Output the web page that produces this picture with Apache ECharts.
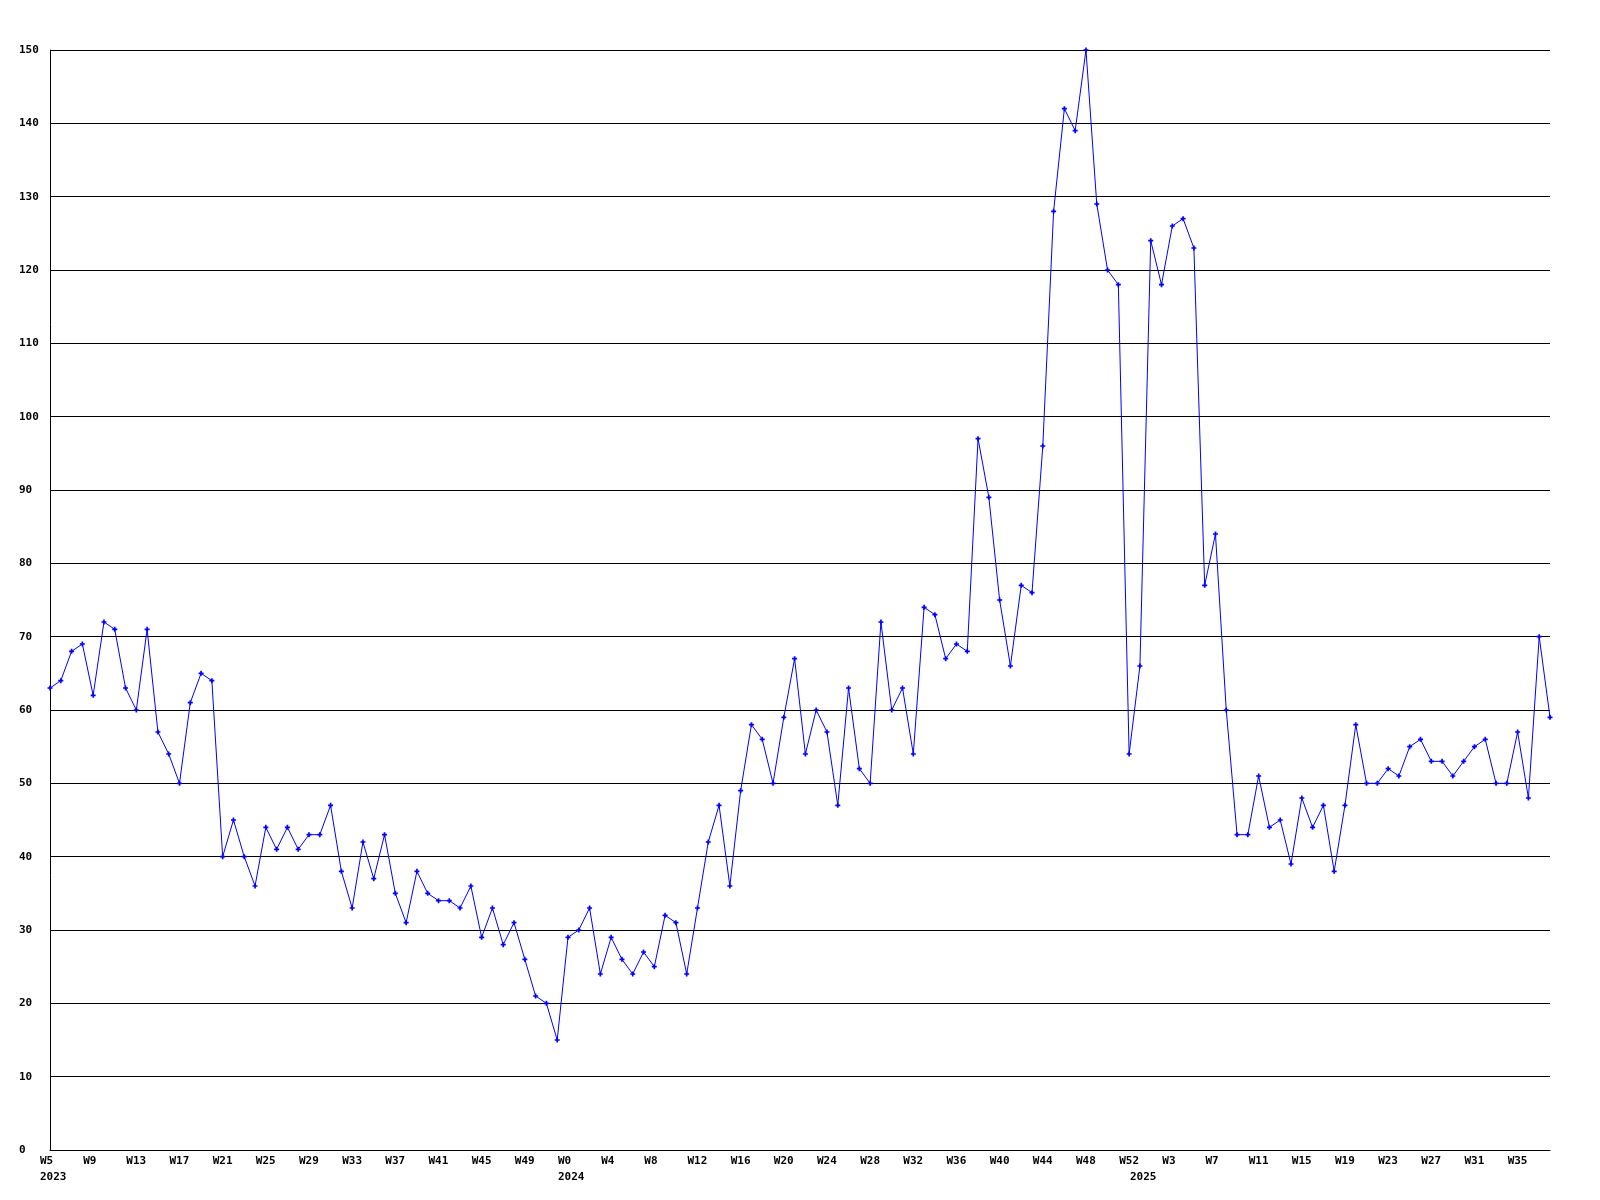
<!DOCTYPE html>
<html>
<head>
<meta charset="utf-8">
<script src="https://cdn.jsdelivr.net/npm/echarts@6/dist/echarts.min.js"></script>
<style>
html,body{margin:0;padding:0;background:#ffffff;}
#chart{width:1600px;height:1200px;}
</style>
</head>
<body>
<div id="chart"></div>
<script>
// Week ranges per year (category axis)
const weeks2023 = [5, 52];
const weeks2024 = [0, 52];
const weeks2025 = [0, 38];
const yearNames = ['2023', '2024', '2025'];

// Series values, weekly
const values2023 = [63,64,68,69,62,72,71,63,60,71,57,54,50,61,65,64,40,45,40,36,44,41,44,41,43,43,47,38,33,42,37,43,35,31,38,35,34,34,33,36,29,33,28,31,26,21,20,15];
const values2024 = [29,30,33,24,29,26,24,27,25,32,31,24,33,42,47,36,49,58,56,50,59,67,54,60,57,47,63,52,50,72,60,63,54,74,73,67,69,68,97,89,75,66,77,76,96,128,142,139,150,129,120,118,54];
const values2025 = [66,124,118,126,127,123,77,84,60,43,43,51,44,45,39,48,44,47,38,47,58,50,50,52,51,55,56,53,53,51,53,55,56,50,50,57,48,70,59];

// Y tick labels
const yMin = 0, yMax = 150, yStep = 10;

const ranges = [weeks2023, weeks2024, weeks2025];
const categories = [];
const yearStart = {};
ranges.forEach(function (r, yi) {
  yearStart[categories.length] = yearNames[yi];
  for (let w = r[0]; w <= r[1]; w++) categories.push(yearNames[yi] + ' W' + w);
});
const values = values2023.concat(values2024, values2025);

const chart = echarts.init(document.getElementById('chart'), null, {renderer: 'canvas'});
const font = 'DejaVu Sans Mono';
chart.setOption({
  animation: false,
  backgroundColor: '#ffffff',
  grid: {left: 50, right: 50, top: 50, bottom: 50, containLabel: false},
  xAxis: {
    type: 'category',
    data: categories,
    boundaryGap: false,
    axisLine: {show: true, lineStyle: {color: '#000000', width: 1}},
    axisTick: {show: false},
    splitLine: {show: false},
    axisLabel: {
      interval: function (i) { return i % 4 === 0 || yearStart[i] !== undefined; },
      align: 'center',
      margin: 3,
      formatter: function (v, i) {
        const wk = i % 4 === 0 ? v.split(' ')[1] : ' ';
        const yr = yearStart[i] !== undefined ? yearStart[i] : ' ';
        return '{w|' + wk + '}\n{w|' + yr + '}';
      },
      rich: {
        w: {width: 20, align: 'left', fontFamily: font, fontWeight: 'bold', fontSize: 11, lineHeight: 16, color: '#000000'}
      }
    }
  },
  yAxis: {
    type: 'value',
    min: yMin, max: yMax, interval: yStep,
    axisLine: {show: true, lineStyle: {color: '#000000', width: 1}},
    axisTick: {show: false},
    splitLine: {show: true, lineStyle: {color: '#000000', width: 1}},
    axisLabel: {
      align: 'left', margin: 31,
      fontFamily: font, fontWeight: 'bold', fontSize: 11, color: '#000000'
    }
  },
  series: [{
    type: 'line',
    data: values,
    symbol: 'path://M1,0H2V1H3V2H2V3H1V2H0V1H1Z',
    symbolSize: 5,
    showAllSymbol: true,
    itemStyle: {color: '#0000ff'},
    lineStyle: {color: '#0000ff', width: 1},
    clip: false
  }]
});
</script>
</body>
</html>
